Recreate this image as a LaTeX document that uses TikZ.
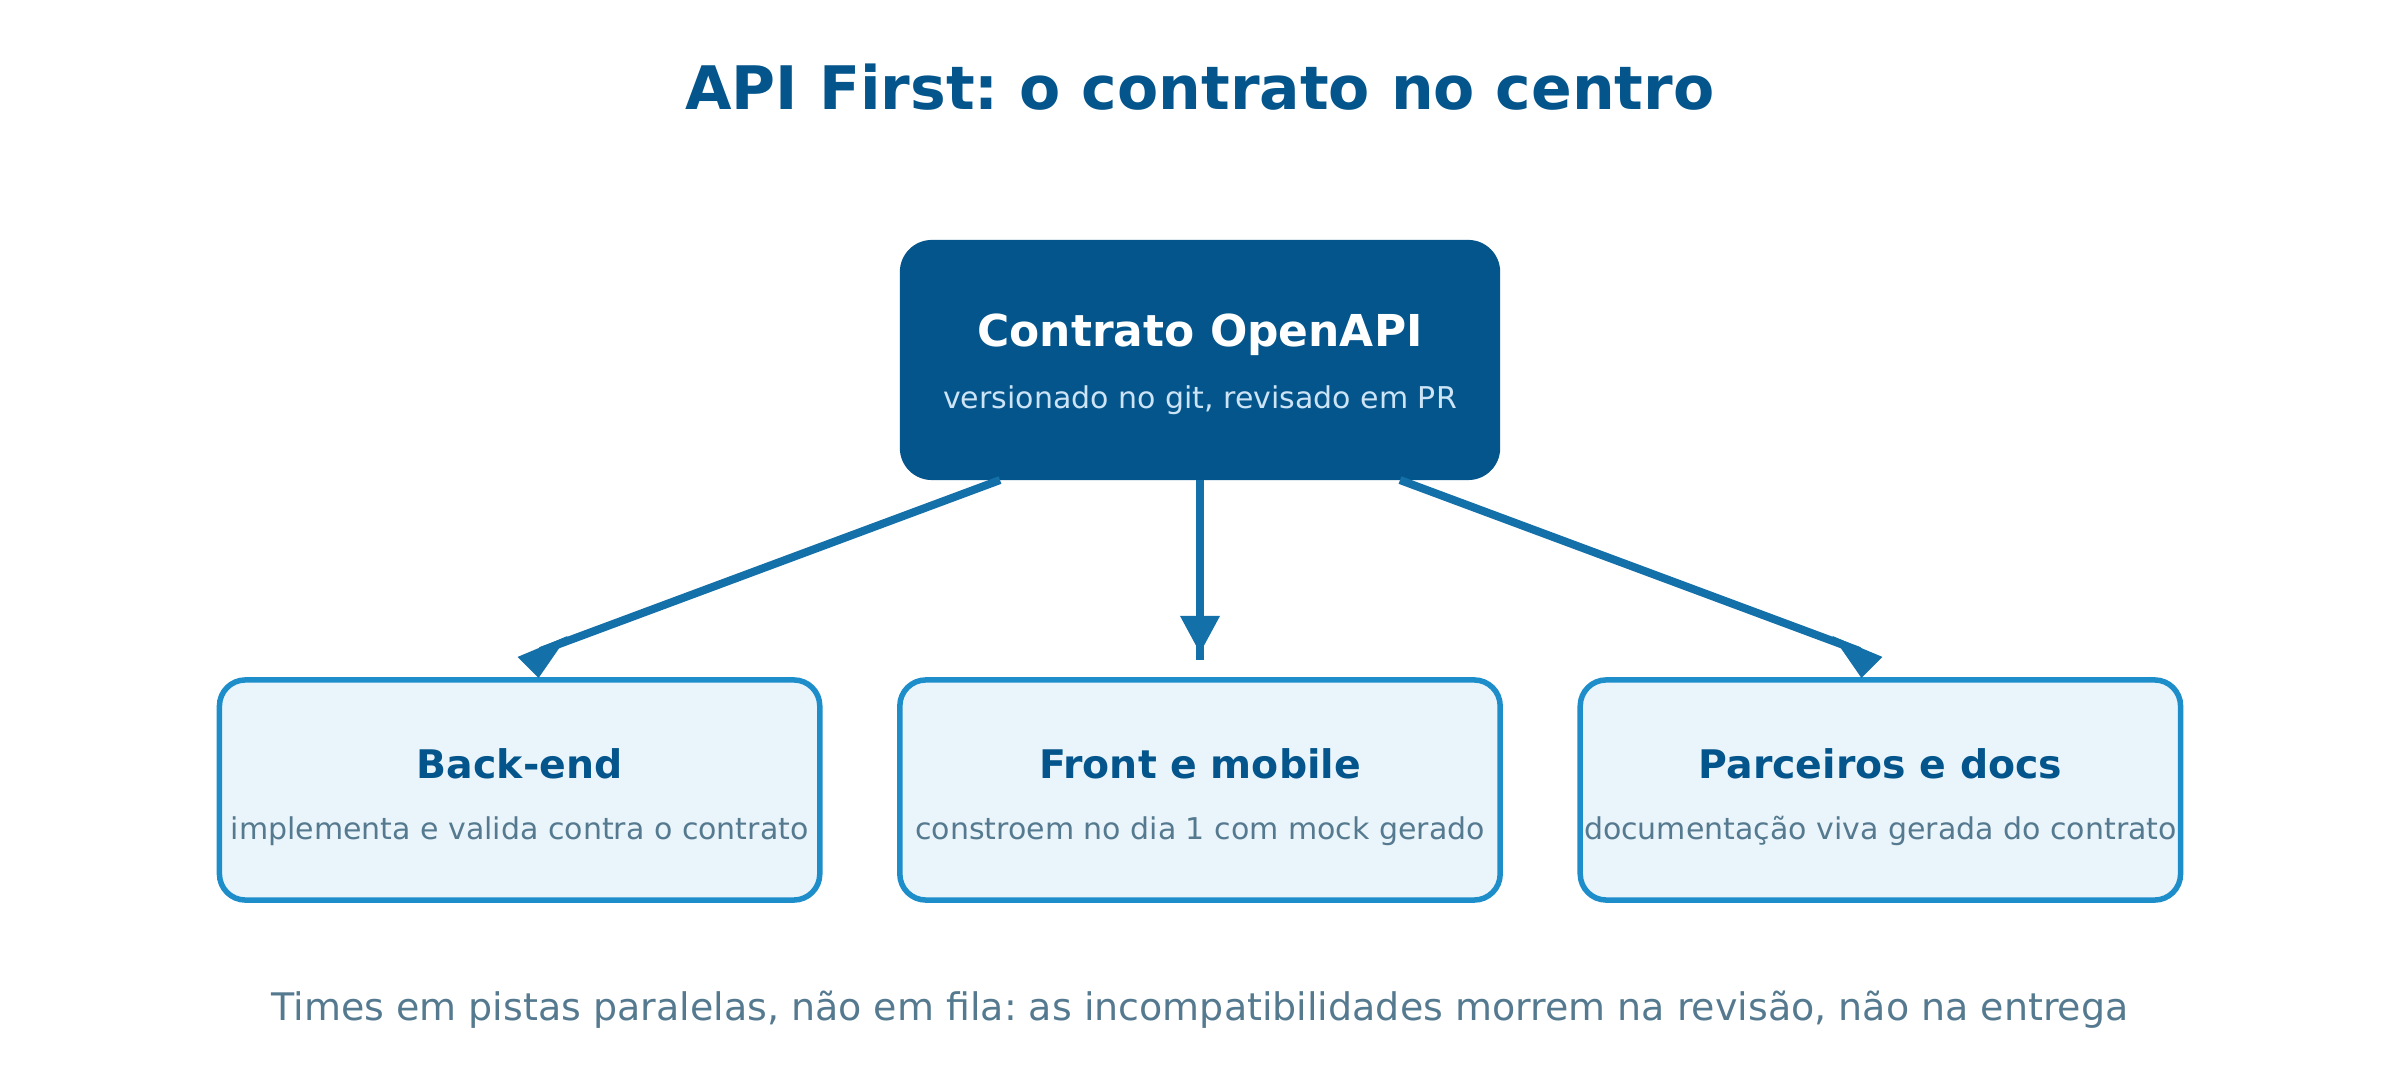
\documentclass[tikz,border=0pt]{standalone}
\usepackage{fontspec}
\setmainfont{DejaVu Sans}
\frenchspacing
\usetikzlibrary{calc}
\usetikzlibrary{positioning}
\definecolor{contractblue}{HTML}{03558B}
\definecolor{arrowblue}{HTML}{1470A8}
\definecolor{laneborder}{HTML}{1E8ECB}
\definecolor{lanefill}{HTML}{EAF4FB}
\definecolor{notegray}{HTML}{557A90}
\definecolor{contractnote}{HTML}{CCE4F5}
\tikzstyle{contractbox}=[fill=contractblue,rounded corners=0.32cm,minimum width=6cm,minimum height=2.4cm,outer sep=0pt]
\tikzstyle{lanebox}=[draw=laneborder,fill=lanefill,line width=0.055cm,rounded corners=0.26cm,minimum width=6cm,minimum height=2.2cm,outer sep=0pt]
\tikzstyle{lanetitle}=[anchor=base,text=contractblue,font=\fontsize{11.2}{13}\selectfont\bfseries]
\tikzstyle{lanenote}=[anchor=base,text=notegray,font=\fontsize{8.53}{10}\selectfont]
\tikzstyle{flow}=[draw=arrowblue,line width=0.08cm]
\tikzstyle{headtri}=[fill=arrowblue]

\begin{document}
\begin{tikzpicture}[x=0.01cm,y=-0.01cm]
  \useasboundingbox (0,0) rectangle (2400,1080);
  \node[anchor=base,text=contractblue,font=\fontsize{17.07}{20}\selectfont\bfseries] (title) at (1200,110) {API First: o contrato no centro};

  % contract on top
  \node[contractbox] (contract) at (1200,360) {};
  \node[anchor=base,text=white,font=\fontsize{12.5}{14}\selectfont\bfseries] (contractname) at ($(contract.center)+(0,-13)$) {Contrato OpenAPI};
  \node[anchor=base,text=contractnote,font=\fontsize{8.53}{10}\selectfont] (contractnote) at ($(contract.center)+(0,49)$) {versionado no git, revisado em PR};

  % the three lanes
  \node[lanebox] (frontend) at (1200,790) {};
  \node[lanebox,left=0.8cm of frontend] (backend) {};
  \node[lanebox,right=0.8cm of frontend] (partners) {};
  \node[lanetitle] (backendname) at ($(backend.center)+(0,-11)$) {Back-end};
  \node[lanenote] (backendnote) at ($(backend.center)+(0,50)$) {implementa e valida contra o contrato};
  \node[lanetitle] (frontendname) at ($(frontend.center)+(0,-11)$) {Front e mobile};
  \node[lanenote] (frontendnote) at ($(frontend.center)+(0,50)$) {constroem no dia 1 com mock gerado};
  \node[lanetitle] (partnersname) at ($(partners.center)+(0,-11)$) {Parceiros e docs};
  \node[lanenote] (partnersnote) at ($(partners.center)+(0,50)$) {documentação viva gerada do contrato};

  % arrows
  \coordinate (endback) at ($(backend.north)+(21,-29)$);
  \coordinate (endfront) at ($(frontend.north)+(0,-20)$);
  \coordinate (endpartners) at ($(partners.north)+(-21,-29)$);
  \draw[flow] ($(contract.south)+(-200,0)$) -- (endback);
  \draw[flow] (contract.south) -- (endfront);
  \draw[flow] ($(contract.south)+(200,0)$) -- (endpartners);
  \fill[headtri] ($(endback)+(-23,6)$) -- ($(endback)+(27,-15)$) -- ($(endback)+(-2,27)$) -- cycle;
  \fill[headtri] ($(endfront)+(-20,-44)$) -- ($(endfront)+(20,-44)$) -- ($(endfront)+(0,-7)$) -- cycle;
  \fill[headtri] ($(endpartners)+(23,6)$) -- ($(endpartners)+(-27,-15)$) -- ($(endpartners)+(2,27)$) -- cycle;

  \node[anchor=base,text=notegray,font=\fontsize{10.8}{13}\selectfont] (footer) at (1200,1021) {Times em pistas paralelas, não em fila: as incompatibilidades morrem na revisão, não na entrega};
\end{tikzpicture}
\end{document}
